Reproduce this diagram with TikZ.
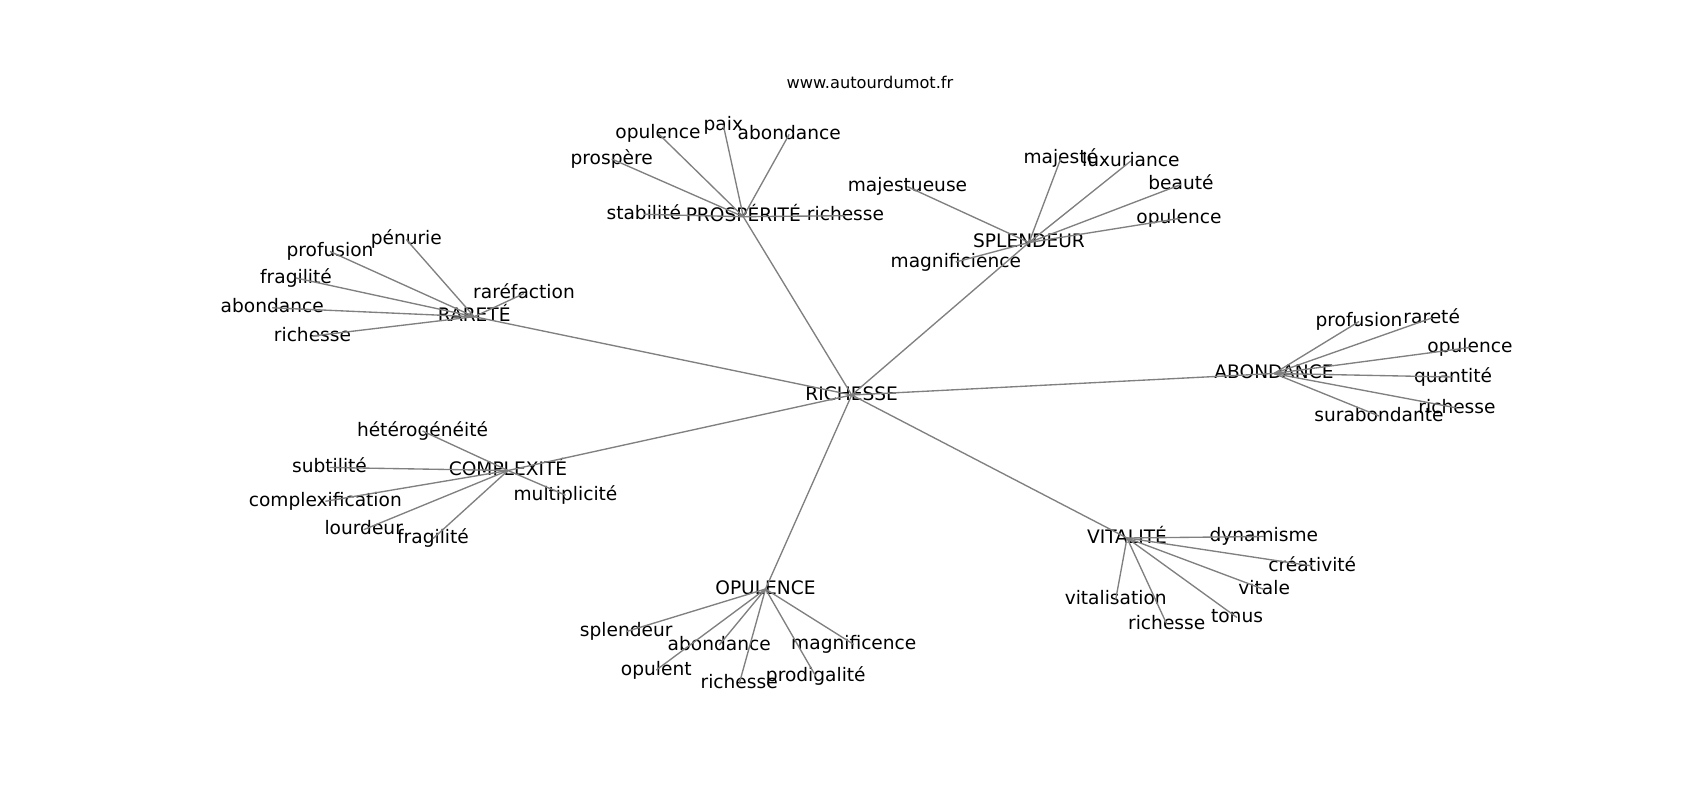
\documentclass[tikz,border=0pt]{standalone}
\usepackage{fontspec}
\setmainfont{DejaVu Sans}
\begin{document}
\begin{tikzpicture}[x=1pt,y=1pt,
  lbl/.style={inner sep=0pt, text height=14.5pt, text depth=4.5pt, font=\fontsize{18.6}{22}\selectfont, anchor=center},
  ttl/.style={inner sep=0pt, anchor=base, font=\fontsize{16.2}{19}\selectfont},
  link/.style={draw=gray, line width=1.35pt}]
\useasboundingbox (0,0) rectangle (1700,-800);
% title
\node[ttl] (title) at (870,-88.3) {www.autourdumot.fr};
% centre
\node[lbl] (R) at (851.7,-395) {RICHESSE};
% hubs
\node[lbl] (P) at (743.3,-216.7) {PROSPÉRITÉ};
\node[lbl] (S) at (1029,-242.5) {SPLENDEUR};
\node[lbl] (Ra) at (474.2,-316.7) {RARETÉ};
\node[lbl] (A) at (1274,-373.5) {ABONDANCE};
\node[lbl] (C) at (508,-470.5) {COMPLEXITÉ};
\node[lbl] (O) at (765.5,-589) {OPULENCE};
\node[lbl] (V) at (1127,-538) {VITALITÉ};
% prosperite leaves
\node[lbl] (p1) at (658,-133.3) {opulence};
\node[lbl] (p2) at (723.3,-125) {paix};
\node[lbl] (p3) at (789.2,-134.3) {abondance};
\node[lbl] (p4) at (611.7,-159) {prospère};
\node[lbl] (p5) at (643.8,-214.3) {stabilité};
\node[lbl] (p6) at (845.5,-215.7) {richesse};
% splendeur leaves
\node[lbl] (s1) at (907.5,-186.7) {majestueuse};
\node[lbl] (s2) at (1060.8,-158.5) {majesté};
\node[lbl] (s3) at (1130.8,-161) {luxuriance};
\node[lbl] (s4) at (1181,-184.5) {beauté};
\node[lbl] (s5) at (1179,-218.5) {opulence};
\node[lbl] (s6) at (955.8,-262) {magnificience};
% rarete leaves
\node[lbl] (r1) at (406.3,-239.5) {pénurie};
\node[lbl] (r2) at (330,-251.5) {profusion};
\node[lbl] (r3) at (296,-278) {fragilité};
\node[lbl] (r4) at (272.2,-307.8) {abondance};
\node[lbl] (r5) at (312.5,-336) {richesse};
\node[lbl] (r6) at (524,-293.5) {raréfaction};
% abondance leaves
\node[lbl] (a1) at (1359,-321.5) {profusion};
\node[lbl] (a2) at (1431.7,-318) {rareté};
\node[lbl] (a3) at (1470,-347.5) {opulence};
\node[lbl] (a4) at (1453,-377) {quantité};
\node[lbl] (a5) at (1457,-408) {richesse};
\node[lbl] (a6) at (1379,-416) {surabondante};
% complexite leaves
\node[lbl] (c1) at (422.5,-431) {hétérogénéité};
\node[lbl] (c2) at (329.5,-467.5) {subtilité};
\node[lbl] (c3) at (325.3,-501.3) {complexification};
\node[lbl] (c4) at (363.7,-529.7) {lourdeur};
\node[lbl] (c5) at (433,-538.6) {fragilité};
\node[lbl] (c6) at (565.5,-495.2) {multiplicité};
% opulence leaves
\node[lbl] (o1) at (626.2,-631.6) {splendeur};
\node[lbl] (o2) at (719.2,-645) {abondance};
\node[lbl] (o3) at (656.3,-670) {opulent};
\node[lbl] (o4) at (739.2,-683.7) {richesse};
\node[lbl] (o5) at (853.8,-644.5) {magnificence};
\node[lbl] (o6) at (815.8,-676.3) {prodigalité};
% vitalite leaves
\node[lbl] (v1) at (1263.8,-536.5) {dynamisme};
\node[lbl] (v2) at (1312.3,-566) {créativité};
\node[lbl] (v3) at (1264.2,-589.5) {vitale};
\node[lbl] (v4) at (1115.7,-599.5) {vitalisation};
\node[lbl] (v5) at (1166.7,-624) {richesse};
\node[lbl] (v6) at (1237,-617.5) {tonus};
% edges
\foreach \h in {P,S,Ra,A,C,O,V} \draw[link] (R.center) -- (\h.center);
\foreach \l in {p1,p2,p3,p4,p5,p6} \draw[link] (P.center) -- (\l.center);
\foreach \l in {s1,s2,s3,s4,s5,s6} \draw[link] (S.center) -- (\l.center);
\foreach \l in {r1,r2,r3,r4,r5,r6} \draw[link] (Ra.center) -- (\l.center);
\foreach \l in {a1,a2,a3,a4,a5,a6} \draw[link] (A.center) -- (\l.center);
\foreach \l in {c1,c2,c3,c4,c5,c6} \draw[link] (C.center) -- (\l.center);
\foreach \l in {o1,o2,o3,o4,o5,o6} \draw[link] (O.center) -- (\l.center);
\foreach \l in {v1,v2,v3,v4,v5,v6} \draw[link] (V.center) -- (\l.center);
\end{tikzpicture}
\end{document}
